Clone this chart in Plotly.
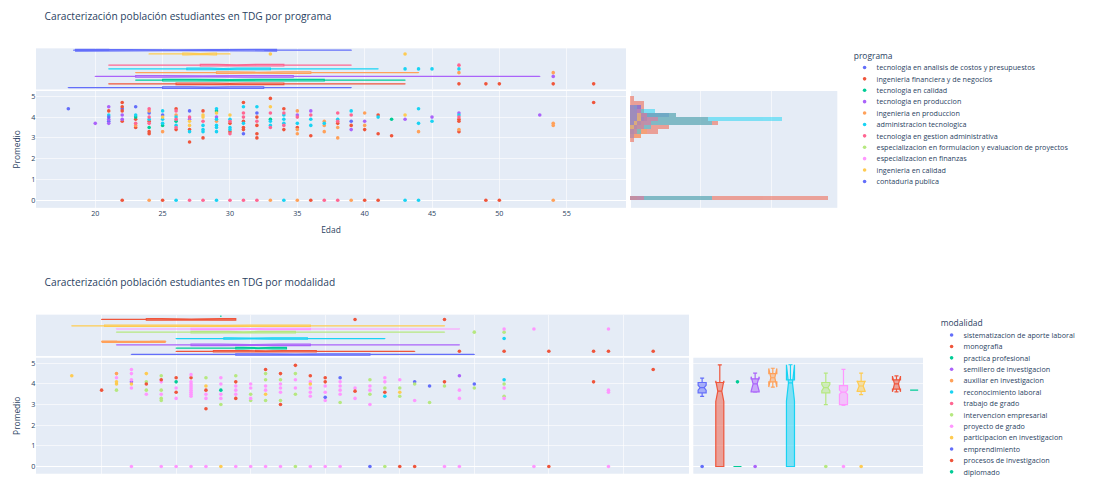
import plotly.graph_objects as go

# ---------------- layout constants (full-scale figure, shown at 0.6) ----------------
W, H = 1822, 802
SCALE = 0.6
PALETTE = ['#636EFA', '#EF553B', '#00CC96', '#AB63FA', '#FFA15A',
           '#19D3F3', '#FF6692', '#B6E880', '#FF97FF', '#FECB52']

def fx(p):
    return p / W

def fy(p):
    return 1 - p / H

# ---------------- data: chart 1 (por programa) ----------------
programas = [
    "tecnologia en analisis de costos y presupuestos",
    "ingenieria financiera y de negocios",
    "tecnologia en calidad",
    "tecnologia en produccion",
    "ingenieria en produccion",
    "administracion tecnologica",
    "tecnologia en gestion administrativa",
    "especializacion en formulacion y evaluacion de proyectos",
    "especializacion en finanzas",
    "ingenieria en calidad",
    "contaduria publica",
]

prog_edad = [
    [21, 22, 24, 25, 31, 32],
    [21, 22, 22, 22, 22, 22, 23, 23, 24, 24, 24, 25, 26, 26, 27, 27, 28, 28, 30, 30, 31, 31, 31, 31,
     32, 32, 32, 32, 33, 34, 34, 35, 36, 36, 38, 39, 40, 40, 41, 41, 41, 42, 47, 47, 47, 49, 50, 57],
    [23, 24, 25, 26, 29, 33, 42],
    [20, 21, 21, 21, 22, 22, 27, 29, 35, 36, 39, 40, 43, 45, 47, 53],
    [23, 24, 24, 25, 26, 29, 33, 35, 35, 35, 35, 37, 37, 37, 38, 38, 39, 40, 40, 44, 47, 54, 54, 54],
    [21, 23, 24, 25, 25, 25, 26, 26, 26, 27, 28, 28, 28, 29, 29, 29, 29, 29, 29, 30, 30, 30, 31, 31,
     32, 33, 33, 34, 34, 34, 34, 35, 36, 36, 37, 38, 39, 41, 43, 44, 44, 44, 45, 47],
    [23, 24, 24, 24, 26, 26, 26, 27, 27, 28, 28, 30, 30, 30, 31, 31, 31, 32, 32, 33, 33, 34, 34, 35,
     36, 37, 38, 38, 38, 39, 47],
    [],
    [],
    [25, 27, 27, 28, 28, 29, 30, 33, 43],
    [18, 21, 23, 27, 39],
]
prog_prom = [
    [3.8, 4.4, 4.2, 4.1, 3.2, 4.2],
    [4.3, 4.7, 4.5, 4.3, 3.8, 0, 3.9, 3.5, 3.8, 3.3, 3.2, 0, 4.4, 3.4, 3.4, 2.8, 4.3, 3.0, 3.7, 3.3,
     4.7, 3.8, 3.5, 3.4, 4.0, 3.6, 3.2, 3.0, 4.9, 4.4, 3.4, 3.5, 3.1, 0, 3.7, 3.6, 3.4, 0, 4.1, 3.2,
     0, 3.1, 3.9, 3.8, 3.3, 0, 0, 4.7],
    [4.0, 3.5, 3.6, 3.8, 4.3, 3.9, 3.9],
    [3.7, 4.5, 3.9, 3.7, 4.1, 3.9, 3.9, 4.0, 4.1, 4.3, 3.4, 3.8, 3.9, 4.0, 4.2, 4.1],
    [3.6, 4.3, 0, 3.3, 4.1, 3.8, 0, 4.3, 3.4, 3.2, 0, 3.8, 3.6, 3.3, 3.5, 3.0, 0, 4.2, 3.6, 3.3,
     3.4, 3.7, 3.6, 0],
    [4.1, 4.1, 3.9, 4.3, 3.9, 3.7, 4.0, 3.6, 0, 3.3, 3.6, 3.4, 3.3, 4.4, 3.9, 3.6, 3.5, 3.3, 0,
     3.9, 3.5, 3.4, 4.5, 3.7, 4.5, 3.8, 3.6, 4.1, 3.9, 3.7, 0, 3.7, 3.9, 3.6, 3.7, 3.9, 4.3, 4.0,
     0, 4.4, 3.7, 0, 3.8, 4.1],
    [3.7, 4.4, 4.0, 3.7, 4.3, 3.9, 3.5, 4.0, 0, 3.8, 0, 3.8, 3.2, 0, 4.2, 4.0, 0, 3.8, 0, 4.2, 3.5,
     4.2, 3.6, 4.0, 4.1, 0, 4.2, 3.8, 0, 4.1, 4.0],
    [],
    [],
    [4.0, 3.8, 3.6, 4.1, 4.0, 4.2, 4.1, 4.5, 4.1],
    [4.4, 4.0, 4.5, 4.3, 3.8],
]

# Edad box summary per programa (marginal x)
prog_box_lf = [18, 21, 23, 20, 23, 21, 21, None, None, 24, 18.4]
prog_box_q1 = [25, 26, 25, 23, 29, 26.8, 27.8, None, None, 26.5, 21]
prog_box_med = [28.5, 30, 30, 28, 32, 29.5, 30.5, None, None, 27.8, 26]
prog_box_q3 = [32.5, 34, 37, 34.7, 36, 33, 34, None, None, 29, 32.6]
prog_box_uf = [39, 43, 43, 53, 44, 41, 39, None, None, 30, 39]
prog_box_notch = [1.5, 1.2, 2.5, 3, 2, 1.0, 1.5, None, None, 1.0, 7.5]
prog_box_out = [[], [47, 49, 50, 54, 57], [], [54], [47, 54], [43, 44, 45, 47], [47], [], [], [33, 43], []]

# Promedio histogram per programa (marginal y), bin centres and counts
hist_bins = [0.1, 2.9, 3.1, 3.3, 3.5, 3.7, 3.9, 4.1, 4.3, 4.5, 4.7, 4.9]
prog_hist = [
    [0, 0, 0, 1, 2, 3, 5, 11, 3, 3, 0, 0],
    [56, 1, 3, 8, 11, 25, 22, 13, 4, 4, 4, 1],
    [0, 0, 0, 1, 2, 3, 4, 2, 1, 0, 0, 0],
    [0, 0, 0, 1, 2, 3, 4, 3, 3, 2, 0, 0],
    [2, 0, 3, 5, 4, 4, 3, 2, 1, 0, 0, 0],
    [23, 0, 1, 3, 6, 23, 43, 13, 7, 2, 0, 0],
    [4, 0, 1, 2, 4, 6, 8, 5, 3, 1, 0, 0],
    [],
    [],
    [0, 0, 0, 0, 1, 2, 3, 3, 2, 2, 0, 0],
    [0, 0, 0, 0, 0, 1, 2, 2, 2, 3, 0, 0],
]

# ---------------- data: chart 2 (por modalidad) ----------------
modalidades = [
    "sistematizacion de aporte laboral",
    "monografia",
    "practica profesional",
    "semillero de investigacion",
    "auxiliar en investigacion",
    "reconocimiento laboral",
    "trabajo de grado",
    "intervencion empresarial",
    "proyecto de grado",
    "participacion en investigacion",
    "emprendimiento",
    "procesos de investigacion",
    "diplomado",
]

mod_edad = [
    [35, 36, 38, 41, 42, 45],
    [25, 25, 26, 27, 29, 31, 32, 32, 33, 34, 35, 35, 39, 40, 41, 50, 53, 57],
    [25],
    [22, 44],
    [21],
    [39, 47],
    [],
    [21, 23, 23, 24, 24, 24, 24, 27, 28, 29, 30, 30, 31, 31, 31, 32, 32, 33, 33, 33, 36, 38, 38,
     39, 39, 40, 40, 41, 42, 43, 45, 47, 47],
    [21, 22, 22, 22, 22, 22, 23, 24, 24, 24, 25, 25, 25, 26, 26, 26, 26, 26, 26, 26, 26, 26, 26,
     27, 27, 27, 28, 28, 28, 28, 29, 29, 29, 29, 30, 30, 30, 30, 31, 31, 31, 32, 32, 32, 32, 33, 33,
     34, 34, 34, 34, 34, 35, 35, 35, 35, 36, 36, 36, 36, 36, 37, 37, 38, 38, 38, 39, 39, 40, 41, 43,
     44, 44, 44, 47, 47, 49, 54, 54, 54],
    [18, 21, 21, 22, 23, 27, 28, 31, 34, 40],
    [],
    [20, 23, 24, 27, 29, 37, 43],
    [28],
]
mod_prom = [
    [3.35, 4.3, 0, 4.1, 3.9, 4.0],
    [4.3, 3.6, 4.3, 2.8, 3.3, 4.7, 4.5, 3.0, 4.9, 4.4, 4.3, 4.1, 3.6, 0, 0, 0, 4.1, 4.7],
    [4.1],
    [4.1, 4.4],
    [4.5],
    [3.4, 4.2],
    [],
    [3.7, 4.1, 3.7, 4.4, 3.7, 3.3, 3.2, 4.3, 3.0, 4.4, 3.5, 3.2, 4.5, 4.2, 3.2, 4.2, 3.2, 4.5, 3.5,
     0, 3.1, 4.2, 3.5, 3.8, 0, 3.8, 3.4, 4.0, 3.1, 3.9, 3.8, 4.0, 3.4],
    [4.3, 4.7, 4.5, 4.2, 3.8, 0, 3.5, 4.1, 3.5, 0, 3.8, 3.3, 0, 4.45, 4.1, 4.0, 3.9, 3.8, 3.7, 3.6,
     3.5, 3.4, 0, 3.5, 3.3, 0, 4.3, 4.0, 3.5, 3.3, 3.9, 3.7, 3.5, 0, 4.0, 3.8, 3.3, 0, 3.9, 3.7, 0,
     4.0, 3.8, 3.6, 0, 4.2, 3.8, 4.1, 3.8, 3.6, 3.4, 0, 3.9, 3.6, 3.2, 0, 4.1, 3.9, 3.7, 3.5, 0,
     3.8, 3.3, 3.9, 3.7, 3.0, 4.3, 4.1, 4.2, 3.2, 0, 3.7, 3.3, 0, 3.8, 3.3, 0, 3.7, 3.6, 0],
    [4.4, 4.1, 4.0, 4.0, 4.5, 3.9, 0, 3.5, 4.0, 3.6],
    [],
    [3.7, 4.0, 4.2, 3.7, 4.1, 3.65, 4.1],
    [3.7],
]

# Edad box summary per modalidad (marginal x)
mod_ebox_lf = [22, 25, 25, 21, 20, 25, None, 21, 21, 18, None, 20, 28]
mod_ebox_q1 = [29, 27.5, 29, 26, 21, 28.2, None, 26, 26, 20.2, None, 23, 28]
mod_ebox_med = [33, 31, 30.5, 30, 22.15, 30, None, 29.5, 30, 28, None, 26, 28]
mod_ebox_q3 = [38, 34.4, 32.4, 34, 23.3, 33.8, None, 33, 34, 34, None, 29, 28]
mod_ebox_uf = [45, 41, 32.4, 44, 24.3, 39, None, 43, 44, 43, None, 29, 28]
mod_ebox_notch = [2, 1.2, 1, 2, 2.15, 1.5, None, 1, 1, 2, None, 2, 0]
mod_ebox_out = [[], [44, 47, 50, 53, 54, 57], [], [], [], [47], [], [45, 47], [47, 49, 54], [], [], [37, 43], []]

# Promedio box summary per modalidad (marginal y)
mod_pbox_lf = [3.4, 0, 0, 3.6, 3.85, 0, None, 3.0, 2.96, 3.48, None, 3.64, 3.7]
mod_pbox_q1 = [3.57, 0, 0, 3.62, 4.1, 0, None, 3.57, 3.0, 3.64, None, 3.75, 3.7]
mod_pbox_med = [3.82, 3.65, 0, 4.0, 4.3, 4.05, None, 3.82, 3.6, 3.9, None, 4.0, 3.7]
mod_pbox_q3 = [4.07, 4.07, 0, 4.25, 4.5, 4.2, None, 4.07, 3.92, 4.12, None, 4.2, 3.7]
mod_pbox_uf = [4.28, 4.92, 0, 4.52, 4.76, 4.93, None, 4.52, 4.71, 4.52, None, 4.39, 3.7]
mod_pbox_notch = [0.12, 0.5, 0, 0.35, 0.45, 0.88, None, 0.15, 0.1, 0.25, None, 0.38, 0]
mod_pbox_out = [[0], [], [4.1], [0], [], [], [], [0], [0], [0], [], [], []]

titulo_1 = "Caracterización población estudiantes en TDG por programa"
titulo_2 = "Caracterización población estudiantes en TDG por modalidad"

for a, b in zip(prog_edad + mod_edad, prog_prom + mod_prom):
    if len(a) != len(b):
        print("length mismatch", len(a), len(b))

fig = go.Figure()


def add_box(name, color, stats, horizontal, xa, ya, outs):
    lf, q1, med, q3, uf, notch = stats
    if q1 is None:
        return
    pos = [name]
    kw = dict(q1=[q1], median=[med], q3=[q3], lowerfence=[lf], upperfence=[uf],
              notched=bool(notch), boxpoints=False, name=name, legendgroup=name,
              showlegend=False, marker_color=color, line_color=color,
              xaxis=xa, yaxis=ya)
    if notch:
        kw['notchspan'] = [notch]
    if horizontal:
        fig.add_trace(go.Box(y=pos, orientation='h', **kw))
        if outs:
            fig.add_trace(go.Scatter(x=outs, y=[name] * len(outs), mode='markers',
                                     marker=dict(color=color, size=6), showlegend=False,
                                     legendgroup=name, hoverinfo='skip', xaxis=xa, yaxis=ya))
    else:
        fig.add_trace(go.Box(x=pos, orientation='v', **kw))
        if outs:
            fig.add_trace(go.Scatter(x=[name] * len(outs), y=outs, mode='markers',
                                     marker=dict(color=color, size=6), showlegend=False,
                                     legendgroup=name, hoverinfo='skip', xaxis=xa, yaxis=ya))


# ---------- chart 1 ----------
for i, name in enumerate(programas):
    c = PALETTE[i % len(PALETTE)]
    xs = prog_edad[i] if prog_edad[i] else [None]
    ys = prog_prom[i] if prog_prom[i] else [None]
    fig.add_trace(go.Scatter(x=xs, y=ys, mode='markers', name=name, legendgroup=name,
                             marker=dict(color=c, size=6), xaxis='x', yaxis='y', legend='legend'))
    add_box(name, c, (prog_box_lf[i], prog_box_q1[i], prog_box_med[i], prog_box_q3[i],
                      prog_box_uf[i], prog_box_notch[i]), True, 'x3', 'y3', prog_box_out[i])
    if prog_hist[i]:
        fig.add_trace(go.Bar(y=hist_bins, x=prog_hist[i], orientation='h', width=0.2,
                             marker=dict(color=c, line=dict(width=0)), opacity=0.5,
                             name=name, legendgroup=name, showlegend=False,
                             xaxis='x2', yaxis='y2'))

# ---------- chart 2 ----------
for i, name in enumerate(modalidades):
    c = PALETTE[i % len(PALETTE)]
    xs = mod_edad[i] if mod_edad[i] else [None]
    ys = mod_prom[i] if mod_prom[i] else [None]
    fig.add_trace(go.Scatter(x=xs, y=ys, mode='markers', name=name, legendgroup=name + '_m',
                             marker=dict(color=c, size=6), xaxis='x4', yaxis='y4', legend='legend2'))
    add_box(name, c, (mod_ebox_lf[i], mod_ebox_q1[i], mod_ebox_med[i], mod_ebox_q3[i],
                      mod_ebox_uf[i], mod_ebox_notch[i]), True, 'x6', 'y6', mod_ebox_out[i])
    add_box(name, c, (mod_pbox_lf[i], mod_pbox_q1[i], mod_pbox_med[i], mod_pbox_q3[i],
                      mod_pbox_uf[i], mod_pbox_notch[i]), False, 'x5', 'y5', mod_pbox_out[i])

# ---------- layout ----------
main1_y = [fy(351.2), fy(153.8)]
marg1_y = [fy(151.2), fy(81.7)]
main1_x = [fx(60), fx(1043.3)]
hist1_x = [fx(1050), fx(1395.5)]

main2_y = [fy(800.5), fy(604.5)]
marg2_y = [fy(601.7), fy(531.7)]
main2_x = [fx(60), fx(1148.3)]
box2_x = [fx(1155.5), fx(1538.3)]

fig.update_layout(
    width=W, height=H,
    margin=dict(l=0, r=0, t=0, b=0),
    template='plotly',
    font=dict(family='"Open Sans", verdana, arial, sans-serif', size=12, color='#2a3f5f'),
    barmode='overlay', bargap=0, boxmode='overlay', boxgap=0.35,
    xaxis=dict(domain=main1_x, anchor='y', range=[15.6, 59.4], dtick=5, tick0=0,
               title=dict(text='Edad'), automargin=False),
    yaxis=dict(domain=main1_y, anchor='x', range=[-0.366, 5.256], dtick=1, tick0=0,
               title=dict(text='Promedio'), automargin=False),
    xaxis2=dict(domain=hist1_x, anchor='y2', range=[0, 58.6], dtick=20, tick0=0,
                showticklabels=False, automargin=False),
    yaxis2=dict(domain=main1_y, anchor='x2', matches='y', showticklabels=False, automargin=False),
    xaxis3=dict(domain=main1_x, anchor='y3', matches='x', showticklabels=False, automargin=False),
    yaxis3=dict(domain=marg1_y, anchor='x3', type='category', categoryorder='array',
                categoryarray=programas, range=[-0.5, len(programas) - 0.5],
                showticklabels=False, showgrid=False, automargin=False),
    xaxis4=dict(domain=main2_x, anchor='y4', range=[15.6, 59.4], dtick=5, tick0=0,
                showticklabels=False, automargin=False),
    yaxis4=dict(domain=main2_y, anchor='x4', range=[-0.35, 5.27], dtick=1, tick0=0,
                title=dict(text='Promedio'), automargin=False),
    xaxis5=dict(domain=box2_x, anchor='y5', type='category', categoryorder='array',
                categoryarray=modalidades, range=[-0.5, len(modalidades) - 0.5],
                showticklabels=False, showgrid=False, automargin=False),
    yaxis5=dict(domain=main2_y, anchor='x5', matches='y4', showticklabels=False, automargin=False),
    xaxis6=dict(domain=main2_x, anchor='y6', matches='x4', showticklabels=False, automargin=False),
    yaxis6=dict(domain=marg2_y, anchor='x6', type='category', categoryorder='array',
                categoryarray=modalidades, range=[-0.5, len(modalidades) - 0.5],
                showticklabels=False, showgrid=False, automargin=False),
    legend=dict(title=dict(text='programa'), x=fx(1421), y=fy(80.8), xanchor='left',
                yanchor='top', tracegroupgap=0),
    legend2=dict(title=dict(text='modalidad'), x=fx(1566), y=fy(533), xanchor='left',
                 yanchor='top', tracegroupgap=0),
    annotations=[
        dict(text=titulo_1, xref='paper', yref='paper', x=fx(71.7), y=fy(26.7),
             xanchor='left', yanchor='middle', showarrow=False,
             font=dict(size=17, color='#2a3f5f')),
        dict(text=titulo_2, xref='paper', yref='paper', x=fx(71.7), y=fy(476.7),
             xanchor='left', yanchor='middle', showarrow=False,
             font=dict(size=17, color='#2a3f5f')),
    ],
)

post = ("var gd=document.getElementById('{plot_id}');"
        "document.documentElement.style.overflow='hidden';"
        "document.body.style.margin='0';document.body.style.overflow='hidden';"
        "gd.style.transformOrigin='0 0';gd.style.transform='scale(" + str(SCALE) + ")';")

fig.write_html("out.html", config={'displayModeBar': False}, post_script=post,
               default_width=str(W) + 'px', default_height=str(H) + 'px')
